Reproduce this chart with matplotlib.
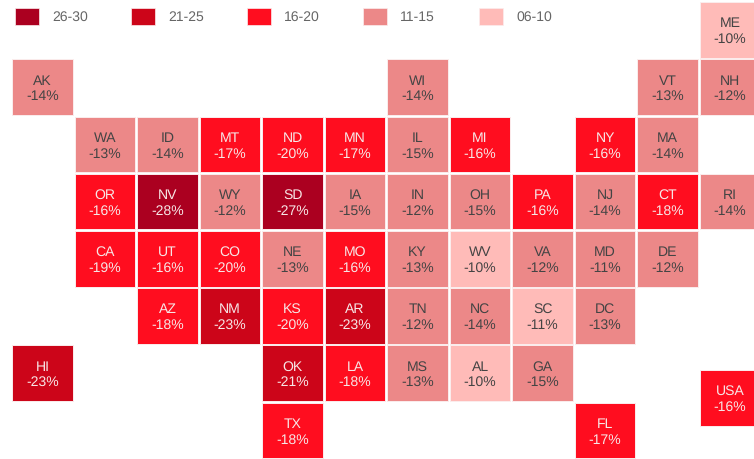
import matplotlib
matplotlib.use('Agg')
import matplotlib.pyplot as plt
from matplotlib.patches import Rectangle

plt.rcParams['text.hinting'] = 'no_hinting'
plt.rcParams['text.hinting_factor'] = 1

# tile grid, one string per row, '.' means empty cell
grid_rows = [
    '. . . . . . . . . . . ME',
    'AK . . . . . WI . . . VT NH',
    '. WA ID MT ND MN IL MI . NY MA .',
    '. OR NV WY SD IA IN OH PA NJ CT RI',
    '. CA UT CO NE MO KY WV VA MD DE .',
    '. . AZ NM KS AR TN NC SC DC . .',
    'HI . . . OK LA MS AL GA . . .',
    '. . . . TX . . . . FL . .',
]

states = ['ME', 'AK', 'WI', 'VT', 'NH', 'WA', 'ID', 'MT', 'ND', 'MN', 'IL', 'MI', 'NY', 'MA',
          'OR', 'NV', 'WY', 'SD', 'IA', 'IN', 'OH', 'PA', 'NJ', 'CT', 'RI',
          'CA', 'UT', 'CO', 'NE', 'MO', 'KY', 'WV', 'VA', 'MD', 'DE',
          'AZ', 'NM', 'KS', 'AR', 'TN', 'NC', 'SC', 'DC',
          'HI', 'OK', 'LA', 'MS', 'AL', 'GA', 'TX', 'FL']
changes = [-10, -14, -14, -13, -12, -13, -14, -17, -20, -17, -15, -16, -16, -14,
           -16, -28, -12, -27, -15, -12, -15, -16, -14, -18, -14,
           -19, -16, -20, -13, -16, -13, -10, -12, -11, -12,
           -18, -23, -20, -23, -12, -14, -11, -13,
           -23, -21, -18, -13, -10, -15, -18, -17]
# SC shows -11 but sits in the lightest class in the picture
class_override = {'SC': '06-10'}

usa_value = -16

legend_labels = ['26-30', '21-25', '16-20', '11-15', '06-10']
legend_colors = ['#AB0020', '#CC0519', '#FF0D1F', '#EC8888', '#FFBBB8']
light_text = '#F7E6E6'
dark_text = '#444444'


def class_of(state, v):
    if state in class_override:
        return class_override[state]
    v = abs(v)
    if v >= 26:
        return '26-30'
    if v >= 21:
        return '21-25'
    if v >= 16:
        return '16-20'
    if v >= 11:
        return '11-15'
    return '06-10'


values = dict(zip(states, changes))
W, H = 754, 459
fig = plt.figure(figsize=(W / 100, H / 100), dpi=100)
ax = fig.add_axes([0, 0, 1, 1])

# one column is 62.5 px, one row 57.2 px
col_w, row_h = 62.5, 57.2
ax.set_xlim(-42.6 / col_w, (W - 42.6) / col_w)
ax.set_ylim((H - 30) / row_h, -30 / row_h)
ax.axis('off')


def tile(col, row, name, v):
    key = class_of(name, v)
    color = legend_colors[legend_labels.index(key)]
    ax.bar(col, 55.5 / row_h, width=60.5 / col_w, bottom=row - 27.75 / row_h, color=color,
           edgecolor='#FBEDED', linewidth=0.7)
    txt = dark_text if key in ('11-15', '06-10') else light_text
    ax.text(col, row - 0.11, name, ha='center', va='center', color=txt,
            fontsize=10, family='Liberation Sans')
    ax.text(col, row + 0.165, f'{v}%', ha='center', va='center', color=txt,
            fontsize=10, family='Liberation Sans')


for r, line in enumerate(grid_rows):
    for c, name in enumerate(line.split()):
        if name != '.':
            tile(c, r, name, values[name])

# USA tile sits off the grid, between rows 6 and 7
tile(11, 6.43, 'USA', usa_value)

# legend
for i, (lab, col) in enumerate(zip(legend_labels, legend_colors)):
    x0 = 15 + 116 * i
    fig.add_artist(Rectangle((x0 / W, 1 - 25 / H), 24 / W, 17 / H, facecolor=col,
                             edgecolor='#FBEDED', linewidth=0.5,
                             transform=fig.transFigure))
    fig.text((x0 + 37) / W, 1 - 17 / H, lab, ha='left', va='center', color='#666666',
             fontsize=9.8, family='Liberation Sans')

fig.savefig('out.png', dpi=100)
